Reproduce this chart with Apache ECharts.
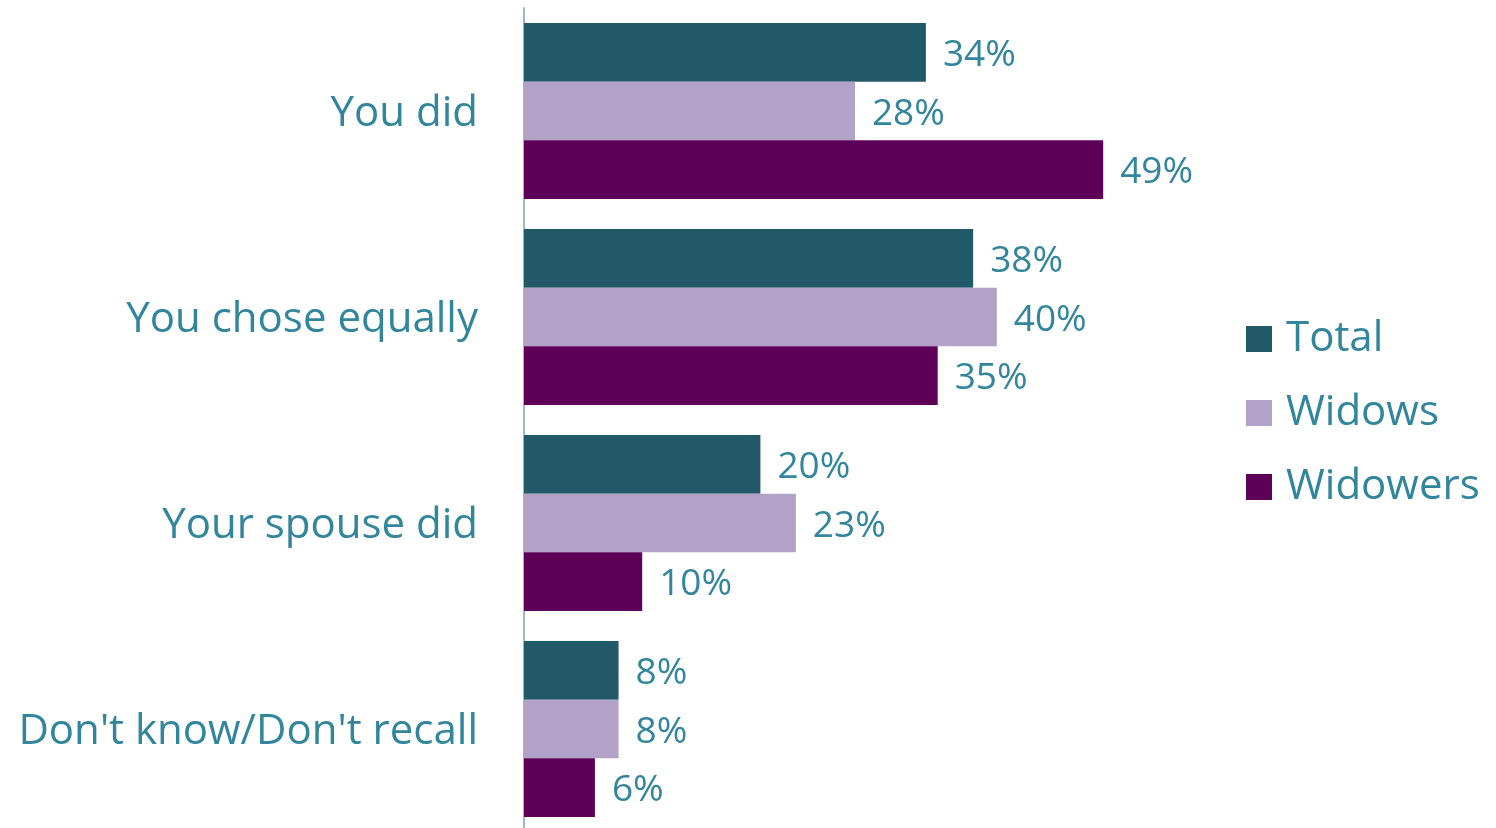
<!DOCTYPE html>
<html>
<head>
<meta charset="utf-8">
<script src="https://cdn.jsdelivr.net/npm/echarts@6/dist/echarts.min.js"></script>
<style>
  html, body { margin: 0; padding: 0; background: #ffffff; }
  #chart { width: 1496px; height: 828px; }
</style>
</head>
<body>
<div id="chart"></div>
<script>
// Who chose the financial advisor
const categories = ['You did', 'You chose equally', 'Your spouse did', "Don't know/Don't recall"];
const seriesNames = ['Total', 'Widows', 'Widowers'];
const totalValues = [34, 38, 20, 8];
const widowsValues = [28, 40, 23, 8];
const widowersValues = [49, 35, 10, 6];

const colors = ['#215968', '#B3A2C7', '#5F0058'];
const textColor = '#31859C';
const fontFamily = '"Open Sans", "Noto Sans", sans-serif';

const chart = echarts.init(document.getElementById('chart'), null, { renderer: 'canvas' });

function makeSeries(name, data, color) {
  return {
    name: name,
    type: 'bar',
    data: data,
    barWidth: 58.7,
    barGap: '0%',
    itemStyle: { color: color },
    label: {
      show: true,
      position: 'right',
      distance: 17,
      offset: [0, 3],
      formatter: '{c}%',
      color: textColor,
      fontFamily: fontFamily,
      fontSize: 37
    }
  };
}

chart.setOption({
  animation: false,
  color: colors,
  grid: {
    left: 524, top: 8, width: 591, height: 824,
    containLabel: false,
    outerBoundsMode: 'none'
  },
  legend: {
    orient: 'vertical',
    left: 1246,
    top: 315,
    padding: 0,
    itemWidth: 26,
    itemHeight: 26,
    itemGap: 26,
    icon: 'rect',
    data: seriesNames,
    textStyle: {
      color: textColor,
      fontFamily: fontFamily,
      fontSize: 42,
      lineHeight: 48,
      padding: [0, 0, 0, 9]
    }
  },
  xAxis: {
    type: 'value',
    min: 0,
    max: 50,
    show: false
  },
  yAxis: {
    type: 'category',
    data: categories,
    inverse: true,
    axisLine: { show: true, lineStyle: { color: '#9DB8C6', width: 2 } },
    axisTick: { show: false },
    axisLabel: {
      margin: 46,
      formatter: function (v) { return '{c|' + v + '}'; },
      rich: {
        c: {
          color: textColor,
          fontFamily: fontFamily,
          fontSize: 42,
          padding: [6, 0, 0, 0]
        }
      }
    }
  },
  series: [
    makeSeries(seriesNames[0], totalValues, colors[0]),
    makeSeries(seriesNames[1], widowsValues, colors[1]),
    makeSeries(seriesNames[2], widowersValues, colors[2])
  ]
});
</script>
</body>
</html>
